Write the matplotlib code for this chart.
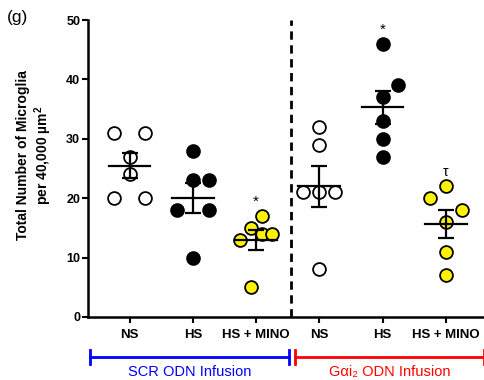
import numpy as np
import matplotlib
matplotlib.use("Agg")
import matplotlib.pyplot as plt
from matplotlib.transforms import blended_transform_factory

plt.rcParams['font.family'] = ['Liberation Sans', 'DejaVu Sans']
plt.rcParams['mathtext.fontset'] = 'custom'
plt.rcParams['mathtext.rm'] = 'Liberation Sans'
plt.rcParams['mathtext.it'] = 'Liberation Sans:italic'
plt.rcParams['mathtext.bf'] = 'Liberation Sans:bold'

# ---- data ----
categories = ["NS", "HS", "HS + MINO", "NS", "HS", "HS + MINO"]
scr_ns = [31, 31, 27, 24, 20, 20]
scr_hs = [28, 23, 23, 18, 18, 10]
scr_hs_mino = [17, 15, 14, 14, 13, 5]
gai_ns = [32, 29, 21, 21, 21, 8]
gai_hs = [46, 39, 37, 33, 30, 27]
gai_hs_mino = [22, 20, 18, 16, 11, 7]
groups = [scr_ns, scr_hs, scr_hs_mino, gai_ns, gai_hs, gai_hs_mino]
sig_marks = {2: "*", 4: "*", 5: "τ"}
y_ticks = [0, 10, 20, 30, 40, 50]
group_labels = ["SCR ODN Infusion", "G\u03b1i\u2082 ODN Infusion"]

# ---- styling ----
offsets = [
    [-0.25, 0.25, 0, 0, -0.25, 0.25],
    [0, 0, 0.25, -0.25, 0.25, 0],
    [0.09, -0.085, 0.09, 0.25, -0.25, -0.085],
    [0, 0, -0.25, 0, 0.25, 0],
    [0, 0.25, 0, 0, 0, 0],
    [0, -0.25, 0.25, 0, 0, 0],
]
faces = ["white", "black", "#FFF200", "white", "black", "#FFF200"]

fig = plt.figure(figsize=(4.85, 3.8), dpi=100)
ax = fig.add_axes([0.181, 0.166, 0.819, 0.781])

pos = np.arange(1, 7)
for i, (vals, offs, fc) in enumerate(zip(groups, offsets, faces)):
    vals = np.asarray(vals, float)
    x = pos[i] + np.asarray(offs)
    ax.scatter(x, vals, s=85, facecolor=fc, edgecolor="black", linewidth=1.3, zorder=3)
    m = vals.mean()
    sem = vals.std(ddof=1) / np.sqrt(len(vals))
    ax.plot([pos[i] - 0.33, pos[i] + 0.33], [m, m], color="black", lw=1.6, zorder=4)
    ax.errorbar(pos[i], m, yerr=sem, fmt="none", ecolor="black", elinewidth=1.6,
                capsize=5.5, capthick=1.6, zorder=4)

for i, mk in sig_marks.items():
    top = max(groups[i])
    ax.text(pos[i], top + 2.4, mk, ha="center", va="center", fontsize=11 if mk == "*" else 10)

ax.axvline(3.56, color="black", lw=2, ls=(0, (3, 2)), zorder=2)

ax.set_xlim(0.34, 6.62)
ax.set_ylim(0, 50)
ax.set_yticks(y_ticks)
ax.set_yticklabels([str(t) for t in y_ticks], fontweight="bold", fontsize=9)
ax.set_xticks(pos)
ax.set_xticklabels(categories, fontweight="bold", fontsize=9.5)
ax.tick_params(axis="both", direction="out", length=4, width=1.5, pad=5)
ax.tick_params(axis="y", pad=1.5)
for s in ["top", "right"]:
    ax.spines[s].set_visible(False)
for s in ["left", "bottom"]:
    ax.spines[s].set_linewidth(1.8)

ax.set_ylabel("Total Number of Microglia\nper 40,000 \u00b5m$^\\mathbf{2}$", fontweight="bold",
              fontsize=10, linespacing=1.15)
ax.yaxis.set_label_coords(-0.085, 0.545)

# group brackets
tr = blended_transform_factory(ax.transData, ax.transAxes)
yb = -0.135
for (x0, x1, col, lab) in [(0.38, 3.52, "#0000FF", group_labels[0]),
                            (3.62, 6.6, "#FF0000", group_labels[1])]:
    ax.plot([x0, x1], [yb, yb], color=col, lw=2, transform=tr, clip_on=False)
    for xe in (x0, x1):
        ax.plot([xe, xe], [yb - 0.025, yb + 0.025], color=col, lw=2, transform=tr, clip_on=False)
    ax.text((x0 + x1) / 2, yb - 0.05, lab, color=col, ha="center", va="center",
            fontsize=10.5, transform=tr)

fig.text(0.015, 0.955, "(g)", fontsize=12.5, ha="left", va="center")

fig.savefig("out.png", dpi=100)
